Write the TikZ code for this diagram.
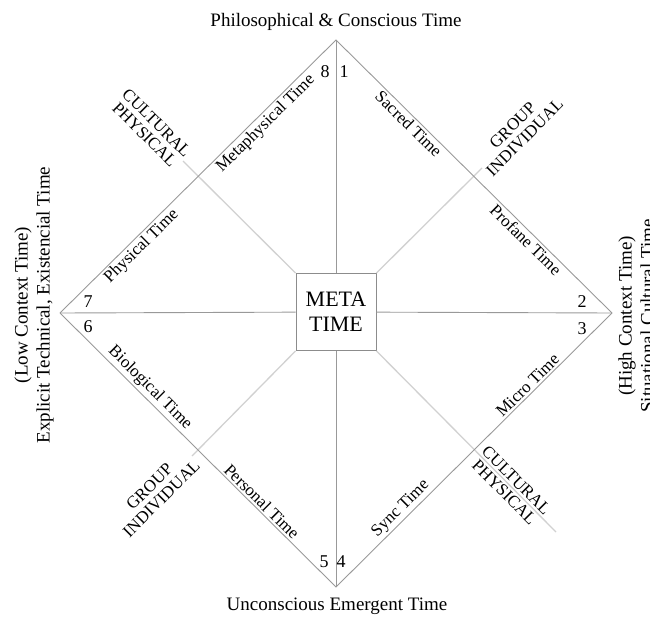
\documentclass[tikz,border=0pt]{standalone}
\usepackage{fontspec}
\setmainfont{Liberation Serif}
\usetikzlibrary{positioning,calc}
\def\midx{336}
\def\midy{313}
\def\toprow{40}
\def\botrow{587}
\def\lcol{60}
\def\rcol{612}

\begin{document}
\begin{tikzpicture}[x=1pt,y=-1pt,
		edge/.style={draw=black!40,line width=0.9pt},
		diag/.style={draw=black!18,line width=1.3pt},
		box/.style={draw=black!45,line width=0.9pt,minimum width=80pt,minimum height=77pt,
			inner sep=0pt,align=center,font=\fontsize{22}{25}\selectfont},
		lbl/.style={font=\fontsize{17}{19}\selectfont,inner sep=2pt,sloped},
		cat/.style={font=\fontsize{17}{17}\selectfont,align=center,inner sep=1pt},
		num/.style={font=\fontsize{18}{18}\selectfont,inner sep=0pt},
		side/.style={font=\fontsize{19}{22}\selectfont,align=center,inner sep=0pt}]
		
		\useasboundingbox (0,0) rectangle (650,618);
		
		% ============ Ecken und Kantenmitten ============
		\coordinate (top) at (\midx,\toprow);
		\coordinate (bot) at (\midx,\botrow);
		\coordinate (lft) at (\lcol,\midy);
		\coordinate (rgt) at (\rcol,\midy);
		\coordinate (ul) at ($(lft)!0.5!(top)$);
		\coordinate (ur) at ($(top)!0.5!(rgt)$);
		\coordinate (ll) at ($(lft)!0.5!(bot)$);
		\coordinate (lr) at ($(bot)!0.5!(rgt)$);
		
		\node[box] (meta) at (\midx,312) {META\\TIME};
		
		% ============ Diagonalen ============
		\coordinate (ulx) at (183,161);
		\coordinate (urx) at (482,168);
		\coordinate (llx) at (192,456);
		\coordinate (lrx) at (556,532);
		\draw[diag] (meta.north west) -- (ulx);
		\draw[diag] (meta.north east) -- (urx);
		\draw[diag] (meta.south west) -- (llx);
		\draw[diag] (meta.south east) -- (lrx);
		\node[cat,rotate=-45,anchor=east] (culA) at (ulx) {CULTURAL\\PHYSICAL};
		\node[cat,rotate=45,anchor=west] (grpA) at (urx) {GROUP\\INDIVIDUAL};
		\node[cat,rotate=45,anchor=east] (grpB) at (llx) {GROUP\\INDIVIDUAL};
		\node[cat,rotate=-45,anchor=west] (culB) at (478,454) {CULTURAL\\PHYSICAL};
		
		% ============ Achsen ============
		\draw[edge] (top) -- (meta);
		\draw[edge] (meta) -- (bot);
		\draw[edge] (lft) -- (meta);
		\draw[edge] (meta) -- (rgt);
		
		% ============ Raute mit Zeitarten ============
		\draw[edge] (lft) -- node[lbl,below,pos=0.54] {Physical Time} (ul)
			-- node[lbl,below,pos=0.44] {Metaphysical Time} (top)
			-- node[lbl,below,pos=0.57] {Sacred Time} (ur)
			-- node[lbl,below,pos=0.42] {Profane Time} (rgt);
		\draw[edge] (lft) -- node[lbl,above,pos=0.6] {Biological Time} (ll)
			-- node[lbl,above,pos=0.42] {Personal Time} (bot)
			-- node[lbl,above,pos=0.52] {Sync Time} (lr)
			-- node[lbl,above,pos=0.43] {Micro Time} (rgt);
		
		% ============ Nummern ============
		\node[num] (n8) at (325,72) {8};
		\node[num] (n1) at (344,72) {1};
		\node[num] (n2) at (582,302) {2};
		\node[num] (n3) at (582,329) {3};
		\node[num] (n4) at (341,562) {4};
		\node[num] (n5) at (324,562) {5};
		\node[num] (n6) at (88,327) {6};
		\node[num] (n7) at (88,302) {7};
		
		% ============ Aussenbeschriftung ============
		\node[side] (ttl) at (\midx,22) {Philosophical \& Conscious Time};
		\node[side] (btl) at (337,606) {Unconscious Emergent Time};
		\node[side,rotate=90] (ltl) at (34,305) {(Low Context Time)\\Explicit Technical, Existencial Time};
		\node[side,rotate=90] (rtl) at (636,316) {(High Context Time)\\Situational Cultural Time};
		
	\end{tikzpicture}
\end{document}
